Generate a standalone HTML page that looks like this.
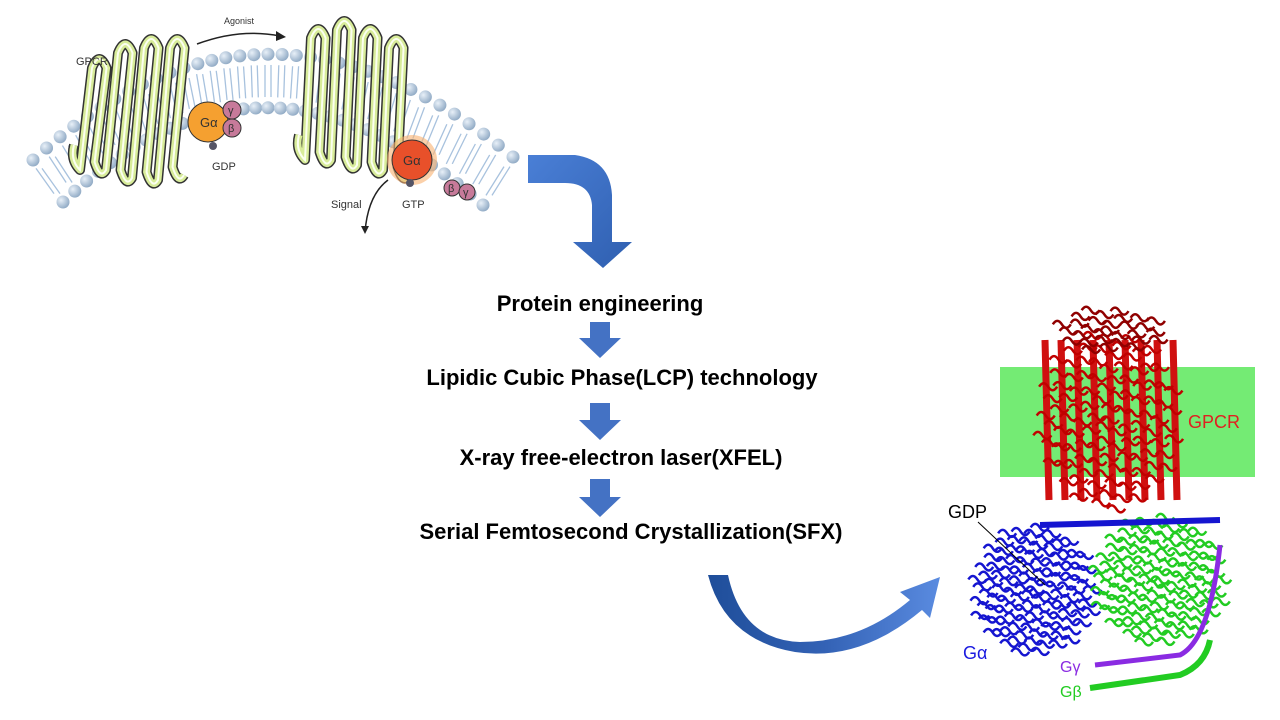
<!DOCTYPE html>
<html><head><meta charset="utf-8"><style>
html,body{margin:0;padding:0;background:#fff;width:1280px;height:720px;overflow:hidden}
svg{display:block}
.step{font-family:"Liberation Sans","Noto Sans CJK SC",sans-serif;font-size:22px;font-weight:bold;fill:#000;text-anchor:middle}
.sm{font-family:"Liberation Sans",sans-serif;font-size:11px;fill:#333}
</style></head><body>
<svg id="s" width="1280" height="720" viewBox="0 0 1280 720">
<defs>
<linearGradient id="bg" x1="0" y1="0" x2="1" y2="1"><stop offset="0" stop-color="#4a7fd6"/><stop offset="1" stop-color="#2f5fb0"/></linearGradient>
<linearGradient id="cg" x1="0" y1="0" x2="1" y2="0"><stop offset="0" stop-color="#1f4e9a"/><stop offset="0.5" stop-color="#3362b5"/><stop offset="1" stop-color="#5a8be0"/></linearGradient>
<radialGradient id="head" cx="0.35" cy="0.35" r="0.7"><stop offset="0" stop-color="#e8f0f8"/><stop offset="1" stop-color="#8fa9c4"/></radialGradient>
</defs>
<g id="membrane"></g>
<g>
<circle cx="208" cy="122" r="20" fill="#f5a030" stroke="#333"/>
<text x="200" y="127" class="sm" style="font-size:13px">Gα</text>
<circle cx="232" cy="110" r="9" fill="#c77a9a" stroke="#333"/><text x="228" y="114" class="sm">γ</text>
<circle cx="232" cy="128" r="9" fill="#c77a9a" stroke="#333"/><text x="228" y="132" class="sm">β</text>
<circle cx="213" cy="146" r="4" fill="#556" />
<text x="212" y="170" class="sm">GDP</text>
<circle cx="412" cy="160" r="25" fill="#f8b070" opacity="0.6"/>
<circle cx="412" cy="160" r="20" fill="#e8502a" stroke="#333"/>
<text x="403" y="165" class="sm" style="font-size:13px">Gα</text>
<circle cx="410" cy="183" r="4" fill="#556"/>
<circle cx="452" cy="188" r="8" fill="#c77a9a" stroke="#333"/><text x="448" y="192" class="sm">β</text>
<circle cx="467" cy="192" r="8" fill="#c77a9a" stroke="#333"/><text x="463" y="196" class="sm">γ</text>
<text x="402" y="208" class="sm">GTP</text>
<text x="331" y="208" class="sm">Signal</text>
<path d="M388 180 Q368 195 365 232" fill="none" stroke="#222" stroke-width="1.5"/>
<path d="M361 226 L365 234 L369 226 Z" fill="#222"/>
<path d="M197 44 Q240 28 280 36" fill="none" stroke="#222" stroke-width="1.5"/>
<path d="M276 31 L286 37 L276 41 Z" fill="#222"/>
<text x="224" y="24" class="sm" style="font-size:9px">Agonist</text>
<text x="76" y="65" class="sm">GPCR</text>
</g>
<path d="M528 155 L575 155 Q610 160 612 195 L612 242 L632 242 L603 268 L573 242 L592 242 L592 205 Q590 183 565 183 L528 183 Z" fill="url(#bg)"/>
<text x="600" y="311" class="step">Protein engineering</text>
<g fill="#4472c4">
<path d="M590 322 L610 322 L610 338 L621 338 L600 358 L579 338 L590 338 Z"/>
<path d="M590 403 L610 403 L610 420 L621 420 L600 440 L579 420 L590 420 Z"/>
<path d="M590 479 L610 479 L610 497 L621 497 L600 517 L579 497 L590 497 Z"/>
</g>
<text x="622" y="385" class="step">Lipidic Cubic Phase(LCP) technology</text>
<text x="621" y="465" class="step">X-ray free-electron laser(XFEL)</text>
<text x="631" y="539" class="step">Serial Femtosecond Crystallization(SFX)</text>
<path d="M708 575 L728 575 Q742 640 800 642 Q860 642 910 600 L900 592 L940 577 L930 618 L922 610 Q860 662 795 652 Q725 640 708 575 Z" fill="url(#cg)"/>
<g>
<rect x="1000" y="367" width="255" height="110" fill="#5ce85c" opacity="0.85"/>
<g id="prot"></g>
<text x="1188" y="428" font-family="Liberation Sans,sans-serif" font-size="18" fill="#e02020">GPCR</text>
<text x="948" y="518" font-family="Liberation Sans,sans-serif" font-size="18" fill="#000">GDP</text>
<line x1="978" y1="522" x2="1045" y2="585" stroke="#000"/>
<text x="963" y="659" font-family="Liberation Sans,sans-serif" font-size="18" fill="#1a1ae0">Gα</text>
<text x="1060" y="672" font-family="Liberation Sans,sans-serif" font-size="16" fill="#8a2be2">Gγ</text>
<text x="1060" y="697" font-family="Liberation Sans,sans-serif" font-size="16" fill="#22cc22">Gβ</text>
</g>
</svg>
<script>
const NS="http://www.w3.org/2000/svg";
function q(p0,p1,p2,t){return [(1-t)*(1-t)*p0[0]+2*(1-t)*t*p1[0]+t*t*p2[0],(1-t)*(1-t)*p0[1]+2*(1-t)*t*p1[1]+t*t*p2[1]];}
const m=document.getElementById('membrane');
function mk(tag,a,parent){const e=document.createElementNS(NS,tag);for(const k in a)e.setAttribute(k,a[k]);parent.appendChild(e);return e;}
const up=[[33,160],[263,-50],[513,157]], lo=[[63,202],[263,12],[483,205]];
for(let i=0;i<=34;i++){const t=i/34;const a=q(up[0],up[1],up[2],t),b=q(lo[0],lo[1],lo[2],t);
 for(let k=-1;k<=1;k+=2){mk('path',{d:`M${a[0]+k*3+(b[0]-a[0])*0.2} ${a[1]+(b[1]-a[1])*0.2} L${a[0]+k*3+(b[0]-a[0])*0.8} ${a[1]+(b[1]-a[1])*0.8}`,stroke:'#a8c2de','stroke-width':1.3,fill:'none'},m);}
 mk('circle',{cx:a[0],cy:a[1],r:6.5,fill:'url(#head)'},m);
 mk('circle',{cx:b[0],cy:b[1],r:6.5,fill:'url(#head)'},m);}
function helix(x0,w,tops,bots,tilt){
 let d='';const n=tops.length;
 for(let i=0;i<n;i++){const x=x0+i*w;const t=tops[i],b=bots[i];
  if(i==0)d+=`M${x-6} ${b-25} Q${x-10} ${b-10} ${x} ${b}`;
  d+=` L${x+tilt} ${t+8} Q${x+tilt+w*0.28} ${t-10} ${x+tilt+w*0.56} ${t+8} L${x+w*0.56} ${b-8} Q${x+w*0.78} ${b+10} ${x+w} ${b}`;}
 mk('path',{d:d,fill:'none',stroke:'#333','stroke-width':10,'stroke-linejoin':'round'},m);
 mk('path',{d:d,fill:'none',stroke:'#d8ec9a','stroke-width':7,'stroke-linejoin':'round'},m);
 mk('path',{d:d,fill:'none',stroke:'#fbfff0','stroke-width':2},m);}
helix(80,26,[60,45,40,40],[170,178,180,175],12);
helix(305,26,[30,22,30,40],[160,165,170,175],6);
const p=document.getElementById('prot');
function blob(cx,cy,rx,ry,col,n){for(let i=0;i<n;i++){const a=i*2.399,r=Math.sqrt(i/n);const x=cx+Math.cos(a)*rx*r,y=cy+Math.sin(a)*ry*r;
 mk('path',{d:`M${x-9} ${y} q4.5 -7 9 0 t9 0`,fill:'none',stroke:col,'stroke-width':2.5},p);}}
for(let i=0;i<9;i++){const x=1045+i*16;mk('path',{d:`M${x} 340 L${x+4} 500`,stroke:'#d01010','stroke-width':7,fill:'none'},p);}
blob(1110,420,70,90,'#c00000',110);blob(1110,330,55,22,'#900000',30);
blob(1035,590,60,65,'#1515d0',120);blob(1160,580,65,65,'#22cc22',120);
mk('path',{d:'M1040 525 L1220 520',stroke:'#1515d0','stroke-width':6,fill:'none'},p);
mk('path',{d:'M1095 665 L1180 655 Q1210 640 1220 545',stroke:'#8a2be2','stroke-width':5,fill:'none'},p);
mk('path',{d:'M1090 688 L1180 675 Q1205 665 1210 640',stroke:'#22cc22','stroke-width':6,fill:'none'},p);
</script>
</body></html>
